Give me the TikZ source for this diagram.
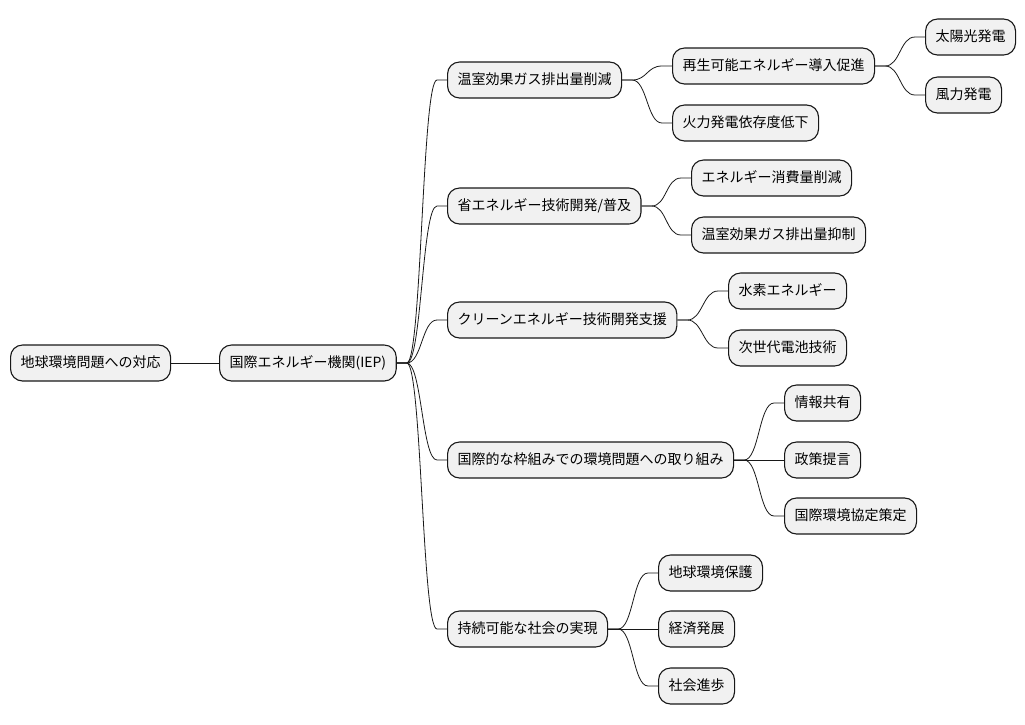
\documentclass[tikz,border=0pt]{standalone}
\usepackage{fontspec}
\newfontfamily\cjk{Noto Sans CJK JP}
\usetikzlibrary{calc}
\definecolor{boxfill}{HTML}{F1F1F1}
\definecolor{boxline}{HTML}{181818}
\tikzset{
  mm/.style={draw=boxline, fill=boxfill, line width=1.1pt, rounded corners=12pt,
    minimum height=36pt, inner xsep=10pt, inner ysep=0pt, anchor=west,
    text height=11pt, text depth=2pt, font=\cjk\fontsize{14}{16}\selectfont},
  conn/.style={draw=boxline, line width=0.8pt}
}
\newcommand\mmlink[2]{\draw[conn] (#1.east) -- ($(#1.east)+(10,0)$) .. controls ($(#1.east)+(25,0)$) and ($(#2.west)+(-25,0)$) .. ($(#2.west)+(-10,0)$) -- (#2.west);}
\begin{document}
\begin{tikzpicture}[x=1pt,y=-1pt]
\useasboundingbox (0,0) rectangle (1025,724);
\node[mm] (root) at (10,363) {地球環境問題への対応};
\node[mm] (iep) at (219,363) {国際エネルギー機関(IEP)};
\node[mm] (a) at (447,80) {温室効果ガス排出量削減};
\node[mm] (a1) at (672,66) {再生可能エネルギー導入促進};
\node[mm] (a11) at (925,37) {太陽光発電};
\node[mm] (a12) at (925,95) {風力発電};
\node[mm] (a2) at (672,123) {火力発電依存度低下};
\node[mm] (b) at (447,206) {省エネルギー技術開発/普及};
\node[mm] (b1) at (691,178) {エネルギー消費量削減};
\node[mm] (b2) at (691,235) {温室効果ガス排出量抑制};
\node[mm] (c) at (447,320) {クリーンエネルギー技術開発支援};
\node[mm] (c1) at (728,291) {水素エネルギー};
\node[mm] (c2) at (728,348) {次世代電池技術};
\node[mm] (d) at (447,460) {国際的な枠組みでの環境問題への取り組み};
\node[mm] (d1) at (784,403) {情報共有};
\node[mm] (d2) at (784,460) {政策提言};
\node[mm] (d3) at (784,516) {国際環境協定策定};
\node[mm] (e) at (447,629) {持続可能な社会の実現};
\node[mm] (e1) at (658,573) {地球環境保護};
\node[mm] (e2) at (658,629) {経済発展};
\node[mm] (e3) at (658,686) {社会進歩};
\draw[conn] (root.east) -- (iep.west);
\mmlink{iep}{a}
\mmlink{iep}{b}
\mmlink{iep}{c}
\mmlink{iep}{d}
\mmlink{iep}{e}
\mmlink{a}{a1}
\mmlink{a}{a2}
\mmlink{a1}{a11}
\mmlink{a1}{a12}
\mmlink{b}{b1}
\mmlink{b}{b2}
\mmlink{c}{c1}
\mmlink{c}{c2}
\mmlink{d}{d1}
\mmlink{d}{d2}
\mmlink{d}{d3}
\mmlink{e}{e1}
\mmlink{e}{e2}
\mmlink{e}{e3}
\end{tikzpicture}
\end{document}
